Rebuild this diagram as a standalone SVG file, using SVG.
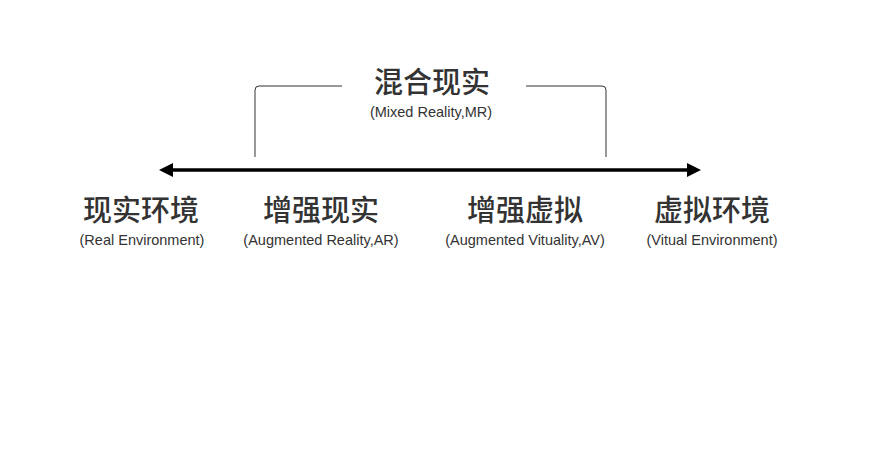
<svg xmlns="http://www.w3.org/2000/svg" width="875" height="449" viewBox="0 0 875 449">
<style>
.zh{font-family:"Noto Sans CJK SC","Noto Sans",sans-serif;font-size:29px;font-weight:500;fill:#333;text-anchor:middle}
.en{font-family:"Liberation Sans","Noto Sans",sans-serif;font-size:14.5px;fill:#333;text-anchor:middle}
.br{fill:none;stroke:#333;stroke-width:1}
</style>
<defs>
<marker id="ah" viewBox="0 0 10 10" refX="5" refY="5" markerWidth="4" markerHeight="4" orient="auto-start-reverse" markerUnits="strokeWidth">
<path d="M0,0 L10,5 L0,10 z" fill="#000"/>
</marker>
</defs>
<rect width="875" height="449" fill="#fff"/>
<g id="connectors">
<line x1="166" y1="170" x2="694" y2="170" stroke="#000" stroke-width="3.5" marker-start="url(#ah)" marker-end="url(#ah)"/>
<path class="br" d="M255,157 V90 Q255,86 259,86 H342"/>
<path class="br" d="M526,86 H602 Q606,86 606,90 V157"/>
</g>
<g id="mr">
<text class="zh" x="432" y="93">混合现实</text>
<text class="en" x="431" y="117">(Mixed Reality,MR)</text>
</g>
<g id="re">
<text class="zh" x="141" y="221">现实环境</text>
<text class="en" x="142" y="245">(Real Environment)</text>
</g>
<g id="ar">
<text class="zh" x="321" y="221">增强现实</text>
<text class="en" x="321" y="245">(Augmented Reality,AR)</text>
</g>
<g id="av">
<text class="zh" x="525" y="221">增强虚拟</text>
<text class="en" x="525" y="245">(Augmented Vituality,AV)</text>
</g>
<g id="ve">
<text class="zh" x="712" y="221">虚拟环境</text>
<text class="en" x="712" y="245">(Vitual Environment)</text>
</g>
</svg>
